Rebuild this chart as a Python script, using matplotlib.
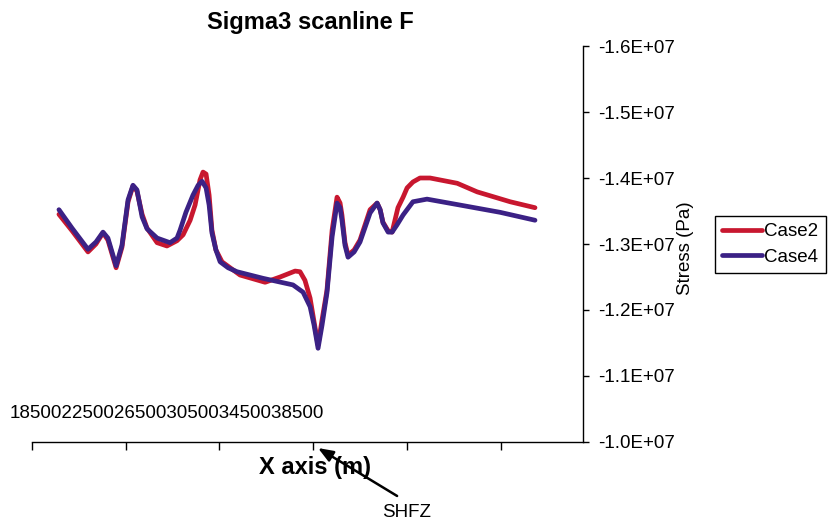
import numpy as np
import matplotlib
matplotlib.use("Agg")
import matplotlib.pyplot as plt

plt.rcParams['font.family'] = ['Liberation Sans', 'DejaVu Sans']

# distance along scanline F (m) and minimum principal stress (Pa)
x_case2 = [19650, 20210, 20890, 21230, 21530, 21740, 22090, 22340, 22600, 22810,
           22980, 23200, 23410, 23840, 24260, 24690, 24950, 25250, 25460, 25670,
           25800, 25930, 26060, 26180, 26350, 26610, 27380, 28450, 29090, 29730,
           29940, 30150, 30370, 30540, 30710, 30880, 31090, 31310, 31520, 31650,
           31730, 31860, 31990, 32250, 32500, 32930, 33230, 33360, 33480, 33700,
           33870, 34120, 34340, 34510, 34760, 35060, 35490, 36650, 37500, 38910,
           39970]
s3_case2 = [-1.345, -1.320, -1.288, -1.300, -1.317, -1.306, -1.264, -1.295, -1.364, -1.388,
            -1.380, -1.345, -1.324, -1.302, -1.297, -1.305, -1.314, -1.336, -1.359, -1.397,
            -1.409, -1.406, -1.374, -1.321, -1.291, -1.273, -1.253, -1.242, -1.250, -1.259,
            -1.258, -1.245, -1.218, -1.182, -1.147, -1.185, -1.230, -1.321, -1.371, -1.362,
            -1.344, -1.302, -1.283, -1.291, -1.306, -1.352, -1.362, -1.352, -1.333, -1.320,
            -1.318, -1.355, -1.371, -1.385, -1.394, -1.400, -1.400, -1.392, -1.379, -1.364,
            -1.355]

x_case4 = [19650, 20210, 20890, 21230, 21530, 21740, 22090, 22340, 22600, 22810,
           22980, 23200, 23410, 23840, 24390, 24690, 24820, 25070, 25370, 25590,
           25760, 25930, 26060, 26180, 26350, 26530, 26870, 27250, 28360, 29640,
           30070, 30370, 30540, 30710, 30880, 31090, 31310, 31520, 31650, 31730,
           31860, 31990, 32250, 32500, 32930, 33230, 33360, 33480, 33700, 33870,
           34080, 34340, 34760, 35360, 36770, 38480, 39970]
s3_case4 = [-1.352, -1.324, -1.292, -1.303, -1.318, -1.309, -1.267, -1.298, -1.367, -1.389,
            -1.382, -1.341, -1.323, -1.309, -1.302, -1.309, -1.321, -1.348, -1.374, -1.389,
            -1.395, -1.385, -1.359, -1.317, -1.291, -1.273, -1.264, -1.258, -1.248, -1.238,
            -1.227, -1.205, -1.177, -1.142, -1.177, -1.226, -1.311, -1.362, -1.355, -1.336,
            -1.298, -1.280, -1.288, -1.303, -1.347, -1.362, -1.352, -1.332, -1.318, -1.318,
            -1.329, -1.344, -1.364, -1.368, -1.359, -1.348, -1.336]

x_ticks = [18500, 22500, 26500, 30500, 34500, 38500]
y_ticks = [-1.0e7, -1.1e7, -1.2e7, -1.3e7, -1.4e7, -1.5e7, -1.6e7]

red = '#c8172f'
blue = '#3b2185'

fig = plt.figure(figsize=(8.29, 5.24), dpi=100)
ax = fig.add_axes([0.0386, 0.1565, 0.6647, 0.7557])

l2, = ax.plot(x_case2, np.array(s3_case2) * 1e7, color=red, lw=3.4,
              solid_capstyle='round', solid_joinstyle='round', label='Case2')
l4, = ax.plot(x_case4, np.array(s3_case4) * 1e7, color=blue, lw=3.4,
              solid_capstyle='round', solid_joinstyle='round', label='Case4')

ax.set_xlim(18500, 42020)
ax.set_ylim(-1.0e7, -1.6e7)

ax.spines['top'].set_visible(False)
ax.spines['left'].set_visible(False)
ax.spines['right'].set_linewidth(1.0)
ax.spines['bottom'].set_linewidth(1.0)

ax.yaxis.tick_right()
ax.set_yticks(y_ticks)
ax.set_yticklabels(['%.1fE+07' % (v / 1e7) for v in y_ticks])
ax.tick_params(axis='y', direction='out', length=4, width=1, pad=7, labelsize=13.5)

ax.set_xticks(x_ticks)
ax.set_xticklabels([])
ax.tick_params(axis='x', direction='out', length=6, width=1)

# the x tick labels run together in one line above the axis
fig.text(0.012, 0.2118, ''.join(str(v) for v in x_ticks), fontsize=13.5,
         ha='left', va='center')

fig.text(0.374, 0.958, 'Sigma3 scanline F', fontsize=17, fontweight='bold',
         ha='center', va='center')
fig.text(0.38, 0.107, 'X axis (m)', fontsize=17, fontweight='bold',
         ha='center', va='center')
fig.text(0.8275, 0.5267, 'Stress (Pa)', fontsize=13.5, rotation=90,
         ha='center', va='center')

leg = fig.legend(handles=[l2, l4], loc='center', bbox_to_anchor=(0.929, 0.5334),
                 fontsize=13.5, handlelength=2.1, handletextpad=0.12,
                 borderpad=0.4, labelspacing=0.45, borderaxespad=0,
                 fancybox=False, framealpha=1)
leg.get_frame().set_edgecolor('black')
leg.get_frame().set_linewidth(1.0)

fig.text(0.491, 0.0229, 'SHFZ', fontsize=13.5, ha='center', va='center')
ax.annotate('', xy=(0.3836, 0.1450), xycoords='figure fraction',
            xytext=(0.479, 0.0535), textcoords='figure fraction',
            arrowprops=dict(arrowstyle='-|>,head_length=0.9,head_width=0.35',
                            color='black', lw=1.8, shrinkA=0, shrinkB=0))

fig.savefig('out.png', dpi=100)
